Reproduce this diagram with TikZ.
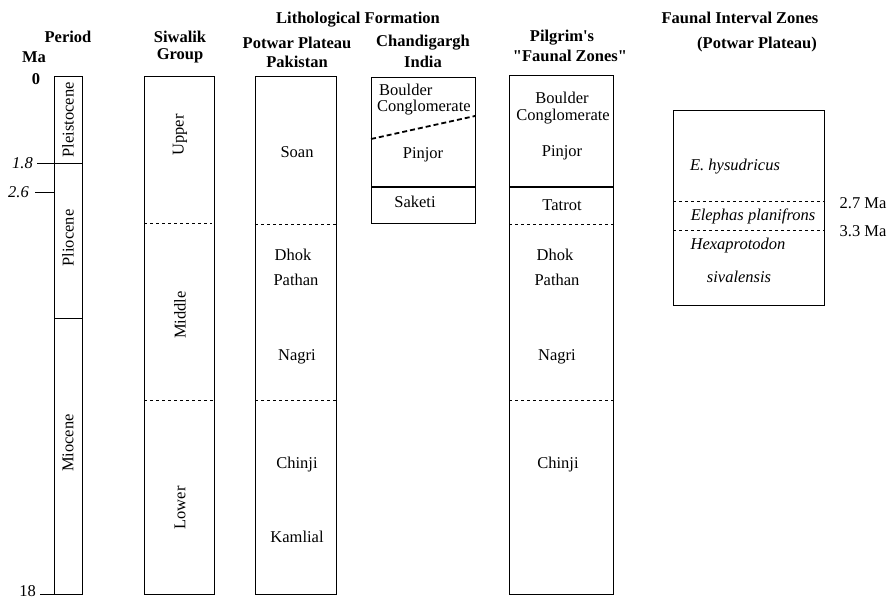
\documentclass[tikz,border=0pt]{standalone}
\usepackage{fontspec}
\setmainfont{Liberation Serif}

\begin{document}
\begin{tikzpicture}[x=1pt,y=-1pt,font=\fontsize{16.5}{19}\selectfont] %% pixel grid, y downwards
	\tikzstyle{hd}=[font=\fontsize{16.5}{19}\selectfont\bfseries,inner sep=0pt];
	\tikzstyle{txt}=[inner sep=0pt];
	\tikzstyle{age}=[inner sep=0pt,font=\fontsize{16.5}{19}\selectfont\itshape,anchor=east];
	\tikzstyle{vtxt}=[inner sep=0pt,rotate=90];
	\tikzstyle{taxon}=[inner sep=0pt,font=\fontsize{16.5}{19}\selectfont\itshape];
	\tikzstyle{zone}=[dash pattern=on 3pt off 3pt,line width=0.6pt];
	\tikzstyle{bound}=[line width=1.8pt];
	\useasboundingbox (0,0) rectangle (894,600);
	%% headings
	\node[hd] (h-period) at (68,37) {Period};
	\node[hd] (h-ma) at (34,57) {Ma};
	\node[hd] (h-siw1) at (180,37) {Siwalik};
	\node[hd] (h-siw2) at (180,56) {Group};
	\node[hd] (h-lith) at (358,20) {Lithological Formation};
	\node[hd] (h-pot1) at (297,43) {Potwar Plateau};
	\node[hd] (h-pot2) at (297,62) {Pakistan};
	\node[hd] (h-cha1) at (423,43) {Chandigargh};
	\node[hd] (h-cha2) at (423,62) {India};
	\node[hd] (h-pil1) at (562,38) {Pilgrim\textquotesingle s};
	\node[hd] (h-pil2) at (570,56) {\textquotedbl Faunal Zones\textquotedbl};
	\node[hd] (h-fau1) at (740,18) {Faunal Interval Zones};
	\node[hd] (h-fau2) at (757,45) {(Potwar Plateau)};
	%% period column
	\draw (54,76) rectangle (82,594);
	\draw (37,163) -- (82,163);
	\draw (35,192) -- (54,192);
	\draw (54,318) -- (82,318);
	\draw (40,594) -- (54,594);
	\node[hd] (a0) at (36,79) {0};
	\node[age] (a18) at (33,163) {1.8};
	\node[age] (a26) at (29,192) {2.6};
	\node[txt,anchor=east] (a180) at (36,591) {18};
	\node[vtxt] (pleist) at (68,120) {Pleistocene};
	\node[vtxt] (plio) at (68,238) {Pliocene};
	\node[vtxt] (mio) at (68,443) {Miocene};
	%% siwalik group
	\draw (144,76) rectangle (214,594);
	\draw[zone] (144,223) -- (212,223);
	\draw[zone] (144,400) -- (214,400);
	\node[vtxt] (upper) at (180,135) {Upper};
	\node[vtxt] (middle) at (180,315) {Middle};
	\node[vtxt] (lower) at (180,508) {Lower};
	%% potwar plateau
	\draw (255,76) rectangle (336,594);
	\draw[zone] (255,224) -- (336,224);
	\draw[zone] (255,400) -- (336,400);
	\node[txt] (soan) at (297,152) {Soan};
	\node[txt] (dhok) at (293,255) {Dhok};
	\node[txt] (pathan) at (296,280) {Pathan};
	\node[txt] (nagri) at (297,357) {Nagri};
	\node[txt] (chinji) at (297,465) {Chinji};
	\node[txt] (kamlial) at (297,537) {Kamlial};
	%% chandigargh
	\draw (371,77) rectangle (475,223);
	\draw[bound] (371,187) -- (475,187);
	\draw[line width=1.8pt,dash pattern=on 5pt off 3pt] (371,139) -- (475,116);
	\node[txt,anchor=west] (c-bould) at (379,90) {Boulder};
	\node[txt,anchor=west] (c-congl) at (377,108) {Conglomerate};
	\node[txt] (c-pinjor) at (423,155) {Pinjor};
	\node[txt] (c-saketi) at (415,202) {Saketi};
	%% pilgrim
	\draw (509,75) rectangle (613,594);
	\draw[bound] (509,187) -- (613,187);
	\draw[zone] (509,224) -- (615,224);
	\draw[zone] (509,400) -- (615,400);
	\node[txt] (p-bould) at (562,98) {Boulder};
	\node[txt] (p-congl) at (563,117) {Conglomerate};
	\node[txt] (p-pinjor) at (562,153) {Pinjor};
	\node[txt] (p-tatrot) at (562,205) {Tatrot};
	\node[txt] (p-dhok) at (555,255) {Dhok};
	\node[txt] (p-pathan) at (557,280) {Pathan};
	\node[txt] (p-nagri) at (557,357) {Nagri};
	\node[txt] (p-chinji) at (558,465) {Chinji};
	%% faunal interval zones
	\draw (673,110) rectangle (824,305);
	\draw[zone] (673,201) -- (824,201);
	\draw[zone] (673,230) -- (824,230);
	\node[taxon] (hysud) at (735,167) {E. hysudricus};
	\node[taxon] (elephas) at (753,216) {Elephas planifrons};
	\node[taxon] (hexa1) at (738,246) {Hexaprotodon};
	\node[taxon] (hexa2) at (739,277) {sivalensis};
	\node[txt] (m27) at (863,203) {2.7 Ma};
	\node[txt] (m33) at (863,231) {3.3 Ma};
\end{tikzpicture}
\end{document}
